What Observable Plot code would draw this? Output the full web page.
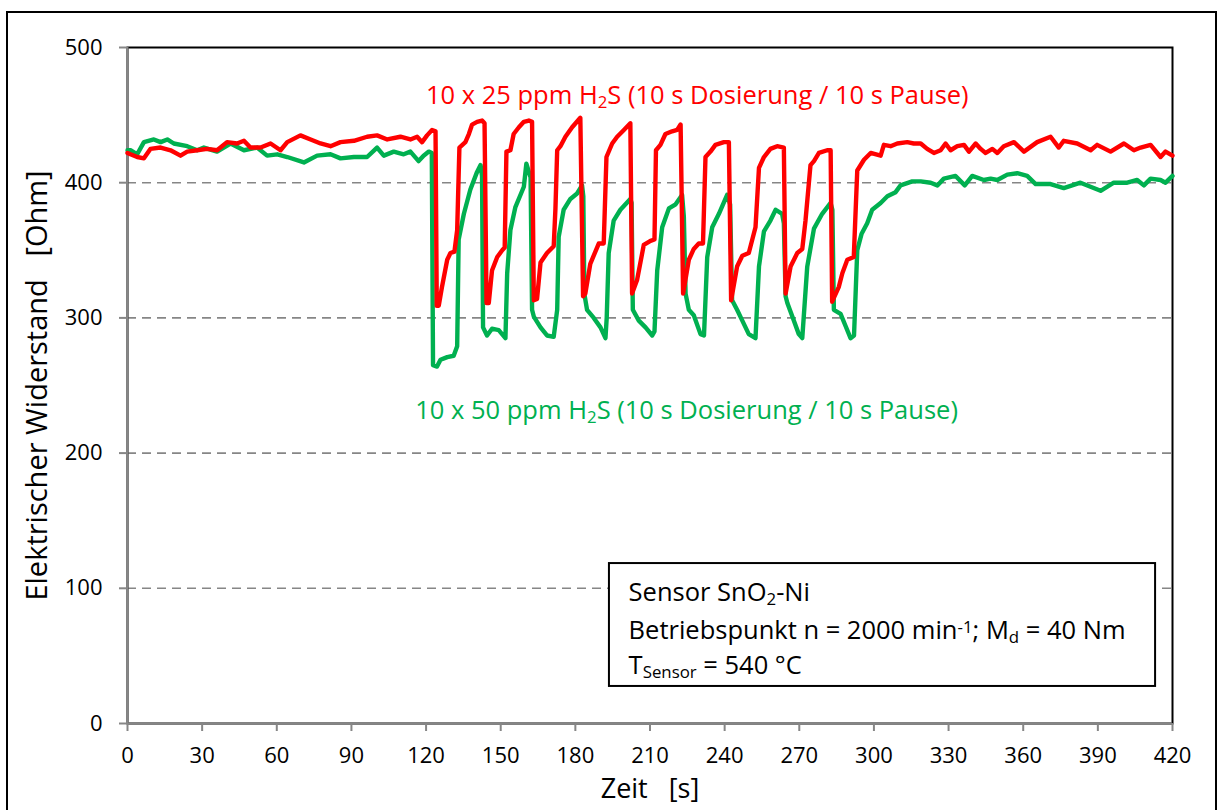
<!DOCTYPE html>
<html>
<head>
<meta charset="utf-8">
<script src="https://cdn.jsdelivr.net/npm/d3@7"></script>
<script src="https://cdn.jsdelivr.net/npm/@observablehq/plot@0.6"></script>
<style>
  html, body { margin: 0; padding: 0; background: #fff; overflow: hidden; }
  #chart { position: relative; width: 1222px; height: 810px; }
  #chart svg { position: absolute; left: 0; top: 0; }
  #rahmen { position: absolute; left: 6px; top: 11px; width: 1211px; height: 830px;
            border: 2px solid #000; box-sizing: border-box; pointer-events: none; }
</style>
</head>
<body>
<div id="chart"><div id="rahmen"></div></div>
<script>
// Messreihe 25 ppm H2S: Zeit [s] und Widerstand [Ohm]
const zeitRot = [0,1.2,3.9,6.6,9.2,13.3,17.3,21.3,24,28,32,36,40,44,46.8,49.4,53.5,57.5,61.5,64.2,69.5,73.6,77.6,81.6,85.6,91,96.3,100.3,104.4,109.7,113.7,116.4,118.4,120.4,122.4,123.8,
  124.3,125.1,126.4,128.5,129.8,131.4,132.5,133.4,135.8,137.2,138.5,140.5,142.5,143.5,
  144.3,145.2,146.5,148.6,150.6,151.6,152.3,153.9,155.2,157.3,159.3,161.3,162.6,
  163.3,164.6,166,168.6,171.3,172,172.7,174,176,178.7,182,
  183.1,184,186,189.4,191.4,192.5,194.8,196.8,199.5,202.1,
  202.8,204.8,207.5,210.2,211.8,212.4,214.2,216.2,218.9,220.9,222.3,
  223.3,225.6,227.6,229.6,231.3,232.3,234.3,236.3,239.7,241.7,
  242.6,245,247.1,249.7,252.4,253.8,255.8,258.4,261.1,263.8,
  264.5,266.5,269.2,271.2,272.5,274.5,275.9,277.9,281.2,282.6,
  283.2,285.9,287.3,289.3,291.9,293.3,296,298.7,302.7,304,306.7,309.4,313.4,316,318.8,321.4,324.1,326.8,328.8,330.8,333.5,336.2,338.2,340.9,342.9,344.9,347.6,349.6,352.2,356.3,360.3,365.6,371,374.3,376.3,381.7,387.1,389.7,395.1,400.5,404.5,407.2,411.2,415.2,417.2,420];
const widerstandRot = [422,421,419,418,425,426,424,420,423,424,425,424,430,429,431,426,426,429,424,430,435,432,429,427,430,431,434,435,432,434,432,434,430,435,439,438,
  309,309,323,343,348,349,365,426,430,436,443,445,446,444,
  311,311,335,345,350,352,423,424,436,441,445,446,445,
  313,314,341,348,353,381,424,427,434,441,448,
  316,318,340,355,355,419,429,434,439,444,
  318,328,354,357,358,424,428,436,438,439,443,
  318,343,351,355,355,419,423,428,430,430,
  313,338,346,348,367,411,419,425,427,426,
  318,338,348,351,372,413,416,422,424,424,
  312,323,333,343,345,409,417,422,420,428,427,429,430,429,429,425,422,424,429,424,427,428,423,429,425,422,425,422,427,430,423,430,434,426,431,429,424,428,423,429,424,426,428,419,423,420];

// Messreihe 50 ppm H2S: Zeit [s] und Widerstand [Ohm]
const zeitGruen = [0,1.2,3.9,6.6,10.6,13.3,16,18.6,24,28,30.7,36,41.4,46.8,52.1,56.1,60.2,64.2,70.9,76.2,81.6,85.6,91,96.3,100.3,103,107,111,113.7,117,119,121.1,122.3,
  122.8,124.4,125.8,128.5,131.1,132.5,133.1,135.2,137.8,140.5,141.9,142.5,
  142.9,144.5,146.5,149.2,151.9,152.6,153.9,155.9,159.3,160.3,162,
  162.6,163.3,166,168.6,171.3,172.7,173.3,175.3,178,180.7,182.7,183.2,
  183.6,184.7,187.4,190.1,192.1,192.6,193.4,195.4,198.1,202.1,202.6,
  203.1,205.5,208.2,210.9,211.8,212.9,214.9,217.6,220.3,222.9,223.6,
  224.3,225.6,227.6,230.3,231.7,233,235,237.7,241,242.2,
  243,245,247.1,249.7,252.4,253.8,255.8,258.4,260.5,263.1,263.8,
  264.5,265.2,267.8,269.8,271.2,273.2,275.9,279.2,282.6,283.3,
  283.9,286.6,288.6,290.6,292,293.3,295,297.3,299.3,302.7,305.4,308.7,310.7,315.4,318.8,322.8,325.5,328.1,332.8,336.5,339.5,344.2,346.9,349.6,353.6,357.6,361.6,365,371,376.3,383,391.1,396.4,401.8,405.8,408.5,411.2,415.2,417.2,420];
const widerstandGruen = [424,424,421,430,432,430,432,429,427,424,426,423,429,424,426,420,421,419,415,420,421,418,419,419,426,420,423,421,423,416,420,423,422,
  265,264,269,271,272,279,358,377,395,408,413,405,
  293,287,292,291,285,333,365,382,397,414,404,
  306,301,293,287,286,306,360,380,388,392,398,390,
  318,306,300,293,285,300,348,372,380,388,385,
  306,298,293,287,290,335,367,381,384,391,375,
  318,306,302,288,287,345,367,377,391,384,
  313,306,298,288,285,338,364,372,380,377,370,
  316,311,298,288,285,338,366,377,385,380,
  306,303,294,285,287,350,362,370,380,385,390,393,398,401,401,400,398,403,405,398,405,402,403,402,406,407,405,399,399,396,400,394,400,400,402,398,403,402,400,405];

// Achsen
const xTicks = [0,30,60,90,120,150,180,210,240,270,300,330,360,390,420];
const yTicks = [0,100,200,300,400,500];
const gitterY = [100,200,300,400];

// Beschriftungen
const textRot = "10 x 25 ppm H_{2}S (10 s Dosierung / 10 s Pause)";
const textGruen = "10 x 50 ppm H_{2}S (10 s Dosierung / 10 s Pause)";
const infoZeilen = ["Sensor SnO_{2}-Ni", "Betriebspunkt n = 2000 min^{-1}; M_{d} = 40 Nm", "T_{Sensor} = 540 °C"];

const ROT = "#ff0000", GRUEN = "#00b050", GRAU = "#868686";
const FONT = "'Open Sans', sans-serif";

const rot = zeitRot.map((t, i) => ({t, r: widerstandRot[i]}));
const gruen = zeitGruen.map((t, i) => ({t, r: widerstandGruen[i]}));

// Lage der Infobox und der Texte in Achseneinheiten
const box = {x1: 193.7, x2: 413.2, y1: 27.4, y2: 118.3};
const infoX = 201.4, infoY = [96.9, 68.8, 42.9];

const plot = Plot.plot({
  width: 1222,
  height: 810,
  marginLeft: 127,
  marginRight: 50,
  marginTop: 47,
  marginBottom: 87,
  style: {fontFamily: FONT, fontSize: "22px", color: "#000", background: "transparent"},
  x: {domain: [0, 420]},
  y: {domain: [0, 500]},
  marks: [
    Plot.ruleY(gitterY, {stroke: GRAU, strokeWidth: 1.6, strokeDasharray: "9,6"}),
    Plot.frame({stroke: "#000", strokeWidth: 2}),
    Plot.ruleX([0], {stroke: GRAU, strokeWidth: 2}),
    Plot.ruleY([0], {stroke: GRAU, strokeWidth: 2}),
    Plot.axisX({ticks: xTicks, tickSize: 8, tickPadding: 16, stroke: GRAU, strokeWidth: 2,
                fill: "#000", fontSize: 22, tickFormat: d => String(d), label: null}),
    Plot.axisY({ticks: yTicks, tickSize: 8, tickPadding: 17, stroke: GRAU, strokeWidth: 2,
                fill: "#000", fontSize: 22, tickFormat: d => String(d), label: null}),
    Plot.text(["Zeit\u00a0\u00a0\u00a0[s]"], {frameAnchor: "bottom", dy: 74, fontSize: 27, fill: "#000"}),
    Plot.text(["Elektrischer Widerstand\u00a0\u00a0\u00a0[Ohm]"], {frameAnchor: "left", dx: -90, rotate: -90, textAnchor: "middle", fontSize: 29, fill: "#000"}),
    Plot.line(gruen, {x: "t", y: "r", stroke: GRUEN, strokeWidth: 4.4, strokeLinejoin: "round", strokeLinecap: "round"}),
    Plot.line(rot, {x: "t", y: "r", stroke: ROT, strokeWidth: 4.4, strokeLinejoin: "round", strokeLinecap: "round"}),
    Plot.text([textRot], {x: 229, y: 464, fill: ROT, fontSize: 25.5}),
    Plot.text([textGruen], {x: 224.7, y: 231.5, fill: GRUEN, fontSize: 25.5}),
    Plot.rect([box], {x1: "x1", x2: "x2", y1: "y1", y2: "y2", fill: "#fff", stroke: "#000", strokeWidth: 2}),
    Plot.text(infoZeilen, {x: infoX, y: (d, i) => infoY[i], textAnchor: "start", fill: "#000", fontSize: 25.5})
  ]
});

// Tief- und Hochstellungen (_{..} bzw. ^{..}) als tspan umsetzen
const NS = "http://www.w3.org/2000/svg";
plot.querySelectorAll("text").forEach(el => {
  const s = el.textContent;
  if (!/[_^]\{/.test(s)) return;
  while (el.firstChild) el.removeChild(el.firstChild);
  const re = /([_^])\{([^}]*)\}/g;
  let last = 0, m;
  const add = (txt, art) => {
    if (!txt) return;
    const ts = document.createElementNS(NS, "tspan");
    ts.textContent = txt;
    if (art) {
      ts.setAttribute("font-size", "66%");
      ts.setAttribute("baseline-shift", art === "_" ? "-22%" : "38%");
    }
    el.appendChild(ts);
  };
  while ((m = re.exec(s))) {
    add(s.slice(last, m.index));
    add(m[2], m[1]);
    last = re.lastIndex;
  }
  add(s.slice(last));
});

document.getElementById("chart").appendChild(plot);
</script>
</body>
</html>
